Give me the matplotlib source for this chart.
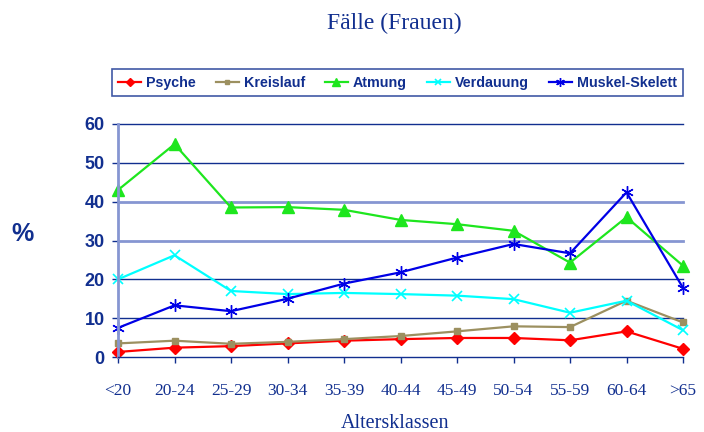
import matplotlib
matplotlib.use("Agg")
import matplotlib.pyplot as plt

# data
klassen = ["<20", "20-24", "25-29", "30-34", "35-39", "40-44",
           "45-49", "50-54", "55-59", "60-64", ">65"]
psyche = [1.3, 2.4, 2.8, 3.5, 4.2, 4.6, 4.9, 4.9, 4.3, 6.6, 2.1]
kreislauf = [3.5, 4.2, 3.4, 3.9, 4.6, 5.4, 6.6, 7.9, 7.7, 14.5, 8.9]
atmung = [43.0, 54.8, 38.5, 38.6, 37.9, 35.3, 34.2, 32.5, 24.3, 36.0, 23.5]
verdauung = [20.0, 26.2, 17.0, 16.2, 16.5, 16.2, 15.8, 14.9, 11.4, 14.5, 6.9]
muskel = [7.5, 13.3, 11.8, 15.0, 18.9, 21.8, 25.6, 29.1, 26.7, 42.4, 17.8]
yticks = [0, 10, 20, 30, 40, 50, 60]

navy = "#112f8f"
serif = ["Liberation Serif", "DejaVu Serif"]
sans = ["Liberation Sans", "DejaVu Sans"]

fig = plt.figure(figsize=(7.04, 4.32), dpi=100)
ax = fig.add_axes([118 / 704, 75 / 432, 565 / 704, 233 / 432])

x = list(range(len(klassen)))
ax.plot(x, psyche, color="#ff0000", lw=1.6, marker="D", ms=6, label="Psyche")
ax.plot(x, kreislauf, color="#9c9060", lw=1.6, marker="s", ms=5, label="Kreislauf")
ax.plot(x, atmung, color="#1ee61e", lw=1.6, marker="^", ms=8, label="Atmung")
ax.plot(x, verdauung, color="#00ffff", lw=1.6, marker="x", ms=7, mew=1.2, label="Verdauung")
ax.plot(x, muskel, color="#0000e6", lw=1.6, marker=(6, 2, 0), ms=9, mew=1.0,
        label="Muskel-Skelett")

# horizontal grid lines
for v in yticks[1:]:
    light = v in (30, 40)
    ax.axhline(v, color="#8696d2" if light else navy, lw=2.0 if light else 1.0,
               zorder=0)

ax.set_xlim(0, len(klassen) - 1)
ax.set_ylim(0, 60)
ax.set_yticks(yticks)
ax.set_xticks(x)
ax.set_xticklabels(klassen, family=serif, fontsize=12.5, color=navy)
ax.set_yticklabels([str(v) for v in yticks], family=sans, fontsize=13,
                   fontweight="bold", color=navy)
ax.tick_params(axis="y", length=4.5, width=1, color=navy, pad=5)
ax.tick_params(axis="x", length=4, width=1, color=navy, pad=15)

for s in ("top", "right"):
    ax.spines[s].set_visible(False)
ax.spines["left"].set_color("#8696d2")
ax.spines["left"].set_linewidth(2)
ax.spines["bottom"].set_color(navy)
ax.spines["bottom"].set_linewidth(1)
for ln in ax.get_lines():
    ln.set_clip_on(False)

fig.text(394 / 704, 1 - 23 / 432, "Fälle (Frauen)", family=serif, fontsize=17,
         color=navy, ha="center", va="center")
fig.text(395 / 704, 1 - 423 / 432, "Altersklassen", family=serif, fontsize=14.5,
         color=navy, ha="center", va="center")
fig.text(23 / 704, 1 - 234 / 432, "%", family=sans, fontsize=18,
         fontweight="bold", color=navy, ha="center", va="center")

leg = fig.legend(loc="lower left", ncol=5, mode="expand",
                 bbox_to_anchor=(112 / 704, 1 - 96 / 432, 571 / 704, 29 / 432),
                 prop={"family": sans, "weight": "bold", "size": 10.3},
                 frameon=True, fancybox=False, borderpad=0.45, borderaxespad=0,
                 handlelength=1.6, handletextpad=0.35, columnspacing=1.0,
                 markerscale=0.7)
leg.get_frame().set_edgecolor(navy)
leg.get_frame().set_linewidth(1.2)
for t in leg.get_texts():
    t.set_color(navy)

fig.savefig("out.png", dpi=100)
